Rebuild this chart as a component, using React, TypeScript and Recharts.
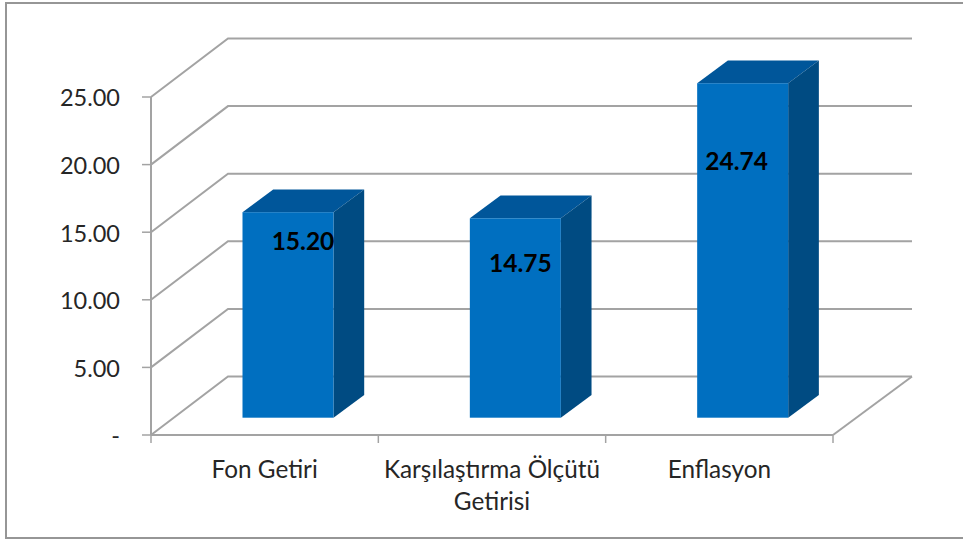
import { BarChart, Bar, XAxis, YAxis, CartesianGrid, LabelList } from 'recharts'

const categories = ['Fon Getiri', 'Karşılaştırma Ölçütü Getirisi', 'Enflasyon']
const categoryLines = [['Fon Getiri'], ['Karşılaştırma Ölçütü', 'Getirisi'], ['Enflasyon']]
const values = [15.2, 14.75, 24.74]
const yTicks = [0, 5, 10, 15, 20, 25]

const data = categories.map((name, i) => ({ name, value: values[i] }))

// fake 3D: depth of the walls, how far the bars sit inside them, and bar thickness
const WALL_X = 77
const WALL_Y = -58.5
const BAR_SHIFT_X = 23.3
const BAR_SHIFT_Y = -17.3
const BAR_DEPTH_X = 30.7
const BAR_DEPTH_Y = -22.7
const PLOT_BOTTOM = 435

// the labels were dragged by hand in the original
const labelNudge = [
  { x: 15, y: 29 },
  { x: 5, y: 45 },
  { x: -6, y: 78 },
]

const LINE = '#a3a3a3'
const TEXT = '#262626'
const FONT = 'Lato, "Open Sans", sans-serif'

function WallLine(props: any) {
  const { x1, y1, x2, y2 } = props
  const isFloor = y1 >= PLOT_BOTTOM - 1
  return (
    <g key={`wall-${y1}`} fill="none" stroke={LINE} strokeWidth={2}>
      <polyline points={`${x1},${y1} ${x1 + WALL_X},${y1 + WALL_Y} ${x2 + 79},${y2 + WALL_Y}`} />
      {isFloor && <line x1={x2} y1={y2} x2={x2 + 79} y2={y2 + WALL_Y} />}
    </g>
  )
}

function Box(props: any) {
  const { x, y, width, height } = props
  const left = x + BAR_SHIFT_X
  const right = left + width
  const top = y + BAR_SHIFT_Y
  const bottom = top + height
  return (
    <g>
      <polygon
        points={`${left},${top} ${left + BAR_DEPTH_X},${top + BAR_DEPTH_Y} ${right + BAR_DEPTH_X},${top + BAR_DEPTH_Y} ${right},${top}`}
        fill="#00569a"
      />
      <polygon
        points={`${right},${top} ${right + BAR_DEPTH_X},${top + BAR_DEPTH_Y} ${right + BAR_DEPTH_X},${bottom + BAR_DEPTH_Y} ${right},${bottom}`}
        fill="#004b82"
      />
      <rect x={left} y={top} width={width} height={height} fill="#006fc0" />
    </g>
  )
}

function CategoryTick(props: any) {
  const { x, y, payload, index } = props
  const half = payload.offset || 113.7
  const lines = categoryLines[index] || [payload.value]
  return (
    <g>
      <line x1={x - half} y1={y - 8} x2={x - half} y2={y} stroke={LINE} strokeWidth={1.5} />
      {index === categories.length - 1 && (
        <line x1={x + half} y1={y - 8} x2={x + half} y2={y} stroke={LINE} strokeWidth={1.5} />
      )}
      {lines.map((line: string, i: number) => (
        <text
          key={line}
          x={x}
          y={y + 35 + i * 32}
          textAnchor="middle"
          fontFamily={FONT}
          fontSize={24.3}
          fill={TEXT}
        >
          {line}
        </text>
      ))}
    </g>
  )
}

function ValueLabel(props: any) {
  const { x, y, width, value, index } = props
  return (
    <text
      x={x + BAR_SHIFT_X + width / 2 + labelNudge[index].x}
      y={y + BAR_SHIFT_Y + labelNudge[index].y}
      dy="0.36em"
      textAnchor="middle"
      fontFamily={FONT}
      fontSize={24.5}
      fontWeight={700}
      fill="#000"
    >
      {Number(value).toFixed(2)}
    </text>
  )
}

export default function App() {
  return (
    <div style={{ position: 'absolute', left: 0, top: 0, width: 963, height: 541, overflow: 'hidden', background: '#fff' }}>
      <div
        style={{
          position: 'absolute',
          left: 5,
          top: 2,
          width: 970,
          height: 533,
          border: '2px solid #969696',
        }}
      />
      <div style={{ position: 'absolute', left: 0, top: 0 }}>
        <BarChart
          width={963}
          height={541}
          data={data}
          margin={{ top: 97, right: 130, bottom: 0, left: 0 }}
          barCategoryGap="30%"
        >
          <CartesianGrid vertical={false} horizontal={WallLine} />
          <XAxis
            dataKey="name"
            height={106}
            interval={0}
            axisLine={{ stroke: LINE, strokeWidth: 2 }}
            tickLine={false}
            tick={CategoryTick}
          />
          <YAxis
            width={151}
            domain={[0, 25]}
            ticks={yTicks}
            interval={0}
            axisLine={{ stroke: LINE, strokeWidth: 2 }}
            tickLine={{ stroke: LINE, strokeWidth: 1.5 }}
            tickSize={9}
            tickMargin={22}
            tick={{ fontFamily: FONT, fontSize: 23.5, fill: TEXT, dy: 1 }}
            tickFormatter={(v: number) => (v === 0 ? '-' : v.toFixed(2))}
          />
          <Bar dataKey="value" shape={Box} isAnimationActive={false}>
            <LabelList dataKey="value" content={ValueLabel} />
          </Bar>
        </BarChart>
      </div>
    </div>
  )
}
